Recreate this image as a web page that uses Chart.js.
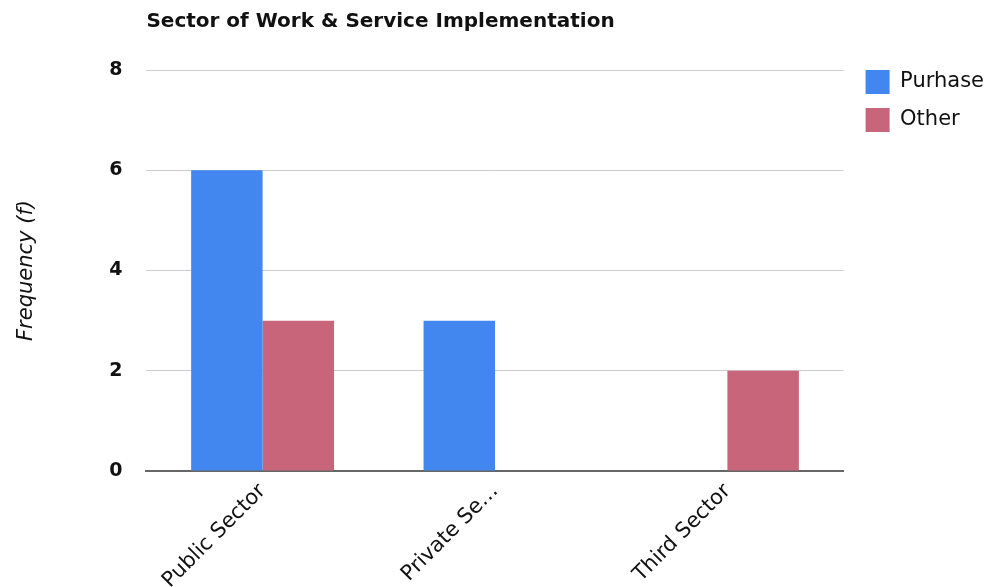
<!DOCTYPE html>
<html>
<head>
<meta charset="utf-8">
<script src="https://cdn.jsdelivr.net/npm/chart.js@4/dist/chart.umd.min.js"></script>
<style>
html,body{margin:0;padding:0;background:#fff;}
#wrap{width:994px;height:587px;position:relative;}
</style>
</head>
<body>
<div id="wrap"><canvas id="c"></canvas></div>
<script>
const chartTitle = "Sector of Work & Service Implementation";
const categories = ["Public Sector", "Private Se…", "Third Sector"];
const seriesNames = ["Purhase", "Other"];
const purchaseValues = [6, 3, 0];
const otherValues = [3, 0, 2];
const yTicks = [0, 2, 4, 6, 8];
const yAxisTitle = "Frequency (f)";

const FONT = "'DejaVu Sans', Verdana, sans-serif";

new Chart(document.getElementById('c'), {
  type: 'bar',
  data: {
    labels: categories,
    datasets: [
      { label: seriesNames[0], data: purchaseValues, backgroundColor: '#4287ef', borderWidth: 0 },
      { label: seriesNames[1], data: otherValues, backgroundColor: '#c8657a', borderWidth: 0 }
    ]
  },
  options: {
    responsive: true,
    maintainAspectRatio: false,
    animation: false,
    layout: { padding: { top: 0, left: 0, right: 0, bottom: 0 } },
    datasets: { bar: { categoryPercentage: 0.615, barPercentage: 1.0 } },
    plugins: {
      title: {
        display: true,
        text: chartTitle,
        fullSize: false,
        align: 'start',
        color: '#111',
        padding: { top: 10, bottom: 36 },
        font: { family: FONT, size: 20, weight: 'bold' }
      },
      tooltip: { enabled: false },
      legend: {
        position: 'right',
        align: 'start',
        title: { display: true, text: '', padding: { top: 44, bottom: 0 }, font: { size: 10 } },
        labels: {
          boxWidth: 24,
          boxHeight: 24,
          padding: 14,
          color: '#111',
          font: { family: FONT, size: 21 }
        }
      }
    },
    scales: {
      x: {
        grid: { display: false, drawTicks: false },
        border: { display: true, color: '#666', width: 2 },
        ticks: {
          maxRotation: 45, minRotation: 45,
          autoSkip: false,
          color: '#111',
          padding: 8,
          font: { family: FONT, size: 21 }
        },
        afterFit(axis) { axis.height = 116; }
      },
      y: {
        min: 0, max: 8,
        afterBuildTicks(axis) { axis.ticks = yTicks.map(v => ({ value: v })); },
        grid: { color: '#cccccc', drawTicks: false },
        border: { display: false },
        ticks: {
          color: '#111',
          padding: 24,
          font: { family: FONT, size: 19, weight: 'bold' }
        },
        title: {
          display: true,
          text: yAxisTitle,
          color: '#111',
          padding: { top: 14, bottom: 46 },
          font: { family: FONT, size: 21, style: 'italic' }
        }
      },
      gap: {
        position: 'right',
        display: true,
        grid: { display: false, drawTicks: false },
        border: { display: false },
        ticks: { display: false },
        afterFit(axis) { axis.width = 8; }
      }
    }
  }
});
</script>
</body>
</html>
